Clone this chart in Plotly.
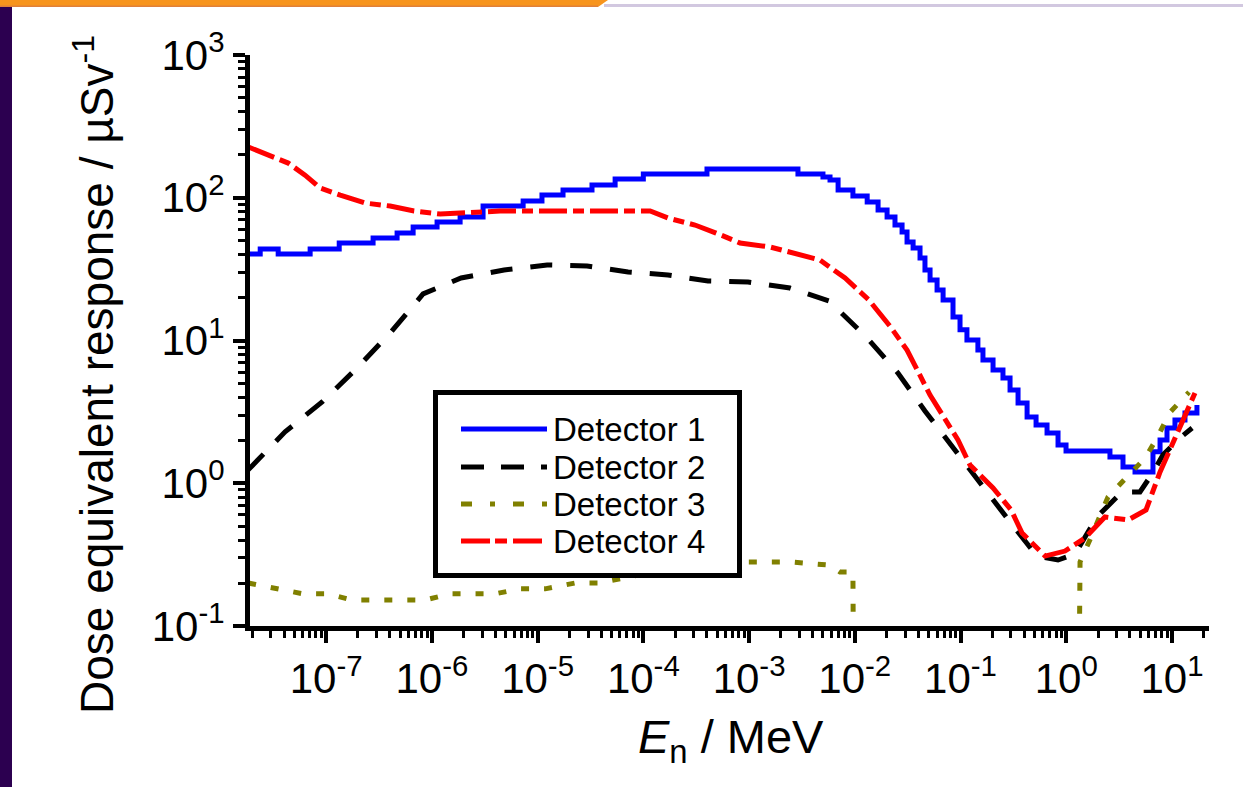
import plotly.graph_objects as go

# ---------------- data ----------------
# Detector 1 (blue, solid, histogram steps)
d1_energy = [1.83e-8, 2.38e-8, 3.52e-8, 7.06e-8, 1.33e-7, 2.78e-7, 4.69e-7, 6.65e-7,
             1.12e-6, 1.85e-6, 3.05e-6, 7.3e-6, 1.1e-5, 1.74e-5, 3.27e-5, 5.41e-5,
             1.0e-4, 4.0e-4, 2.9e-3, 5.0e-3, 5.83e-3, 6.95e-3, 9.6e-3, 1.31e-2,
             1.66e-2, 2.02e-2, 2.4e-2, 2.8e-2, 3.12e-2, 3.56e-2, 4.14e-2, 4.61e-2,
             5.15e-2, 6.0e-2, 6.84e-2, 8.49e-2, 9.89e-2, 0.115, 0.146, 0.163, 0.203,
             0.252, 0.294, 0.35, 0.426, 0.518, 0.658, 0.836, 0.995, 2.59, 3.44, 4.47,
             6.61, 7.71, 8.97, 10.67, 13.27, 17.22]
d1_resp = [40.4, 43.8, 40.4, 43.8, 48.2, 52.2, 56.6, 62.4,
           67.6, 73.3, 87.5, 94.8, 104.5, 113.2, 122.7, 135.2,
           146.6, 158.9, 146.6, 139.6, 133.0, 113.2, 102.8, 93.3,
           82.0, 73.3, 64.4, 57.5, 49.0, 44.5, 37.8, 31.2,
           26.5, 22.6, 19.2, 14.6, 11.9, 10.1, 8.57, 7.29, 6.21,
           5.46, 4.50, 3.65, 2.91, 2.56, 2.25, 1.85, 1.68, 1.53, 1.30, 1.20,
           1.66, 2.01, 2.44, 2.77, 3.10, 3.53]

# Detector 2 (black, dashed)
d2_energy = [1.83e-8, 4.09e-8, 9.16e-8, 1.96e-7, 4.12e-7, 8.26e-7, 1.89e-6, 4.82e-6,
             1.23e-5, 2.94e-5, 7.18e-5, 1.71e-4, 4.09e-4, 9.79e-4, 2.44e-3, 5.71e-3,
             1.28e-2, 2.56e-2, 4.61e-2, 8.49e-2, 0.156, 0.294, 0.528, 0.836, 1.21,
             1.95, 3.37, 4.98, 6.47, 8.22, 12.2, 15.5]
d2_resp = [1.24, 2.29, 3.71, 6.41, 11.5, 21.2, 27.4, 31.2,
           33.8, 33.3, 30.2, 28.8, 26.1, 25.7, 23.3, 18.9,
           10.6, 5.92, 3.21, 1.77, 0.973, 0.536, 0.309, 0.290, 0.319,
           0.581, 0.869, 0.869, 1.16, 1.58, 2.11, 2.44]

# Detector 3 (olive, dotted) - falls below the axis between ~10 keV and ~1.3 MeV
d3_energy = [1.83e-8, 3.67e-8, 6.07e-8, 1.04e-7, 1.76e-7, 5.01e-7, 8.63e-7, 1.49e-6,
             3.96e-6, 6.84e-6, 1.18e-5, 2.26e-5, 3.73e-5, 9.31e-5, 2.77e-4, 8.22e-4,
             2.44e-3, 5.83e-3, 7.24e-3, 9.6e-3, 1.0e-2, 1.27, 1.35, 1.67, 2.48, 3.67,
             5.56, 7.21, 9.57, 14.5]
d3_resp = [0.200, 0.182, 0.168, 0.168, 0.152, 0.152, 0.152, 0.168,
           0.168, 0.182, 0.182, 0.200, 0.200, 0.228, 0.259, 0.281,
           0.281, 0.267, 0.239, 0.239, 0.001, 0.001, 0.281, 0.40, 0.80, 1.09,
           1.50, 2.07, 3.14, 4.35]

# Detector 4 (red, dash-dot)
d4_energy = [1.83e-8, 2.83e-8, 4.38e-8, 6.32e-8, 8.77e-8, 1.36e-7, 2.34e-7, 4.03e-7,
             6.79e-7, 1.2e-6, 2.15e-6, 4.42e-6, 6.03e-5, 1.16e-4, 1.71e-4, 3.08e-4,
             4.88e-4, 8.22e-4, 1.58e-3, 2.72e-3, 4.69e-3, 8.09e-3, 1.36e-2, 2.15e-2,
             3.12e-2, 5.15e-2, 7.13e-2, 9.46e-2, 0.123, 0.203, 0.301, 0.382, 0.630,
             0.973, 1.50, 2.32, 3.84, 5.68, 7.71, 11.4, 16.5]
d4_resp = [227, 199.5, 175, 144, 117, 104.5, 91.8, 87.5,
           80.7, 76.9, 78.2, 80.7, 80.7, 80.7, 72.1, 64.4,
           56.6, 48.2, 45.2, 40.4, 36.6, 27.4, 19.2, 12.6,
           8.57, 4.15, 2.86, 2.01, 1.34, 0.927, 0.650, 0.448, 0.309,
           0.335, 0.413, 0.581, 0.553, 0.650, 1.20, 2.29, 4.29]

series_names = ["Detector 1", "Detector 2", "Detector 3", "Detector 4"]

x_tick_vals = [1e-7, 1e-6, 1e-5, 1e-4, 1e-3, 1e-2, 1e-1, 1e0, 1e1]
x_tick_text = ["10<sup>-7</sup>", "10<sup>-6</sup>", "10<sup>-5</sup>", "10<sup>-4</sup>",
               "10<sup>-3</sup>", "10<sup>-2</sup>", "10<sup>-1</sup>", "10<sup>0</sup>",
               "10<sup>1</sup>"]
y_tick_vals = [1e-1, 1e0, 1e1, 1e2, 1e3]
y_tick_text = ["10<sup>-1</sup>", "10<sup>0</sup>", "10<sup>1</sup>", "10<sup>2</sup>",
               "10<sup>3</sup>"]

# ---------------- styles ----------------
FONT = "Liberation Sans, Arial, sans-serif"
colors = ["#0000FF", "#000000", "#808000", "#FF0000"]
dashes = ["solid", "22px,18px", "8px,15px", "28px,6px,11px,6px"]
legend_dashes = ["solid", "23px,17px", "11px,18px,5px,18px", "29px,5px,12px,6px"]
shapes_line = ["hv", "linear", "linear", "linear"]
LW = 5

W, H = 1243, 787
L, R, T, B = 250, 34, 55, 161
PW, PH = W - L - R, H - T - B


def px(xp):
    return (xp - L) / PW


def py(yp):
    return (H - B - yp) / PH


fig = go.Figure()
data = [(d1_energy, d1_resp), (d2_energy, d2_resp), (d3_energy, d3_resp), (d4_energy, d4_resp)]
for (xe, yr), name, c, d, ls in zip(data, series_names, colors, dashes, shapes_line):
    fig.add_trace(go.Scatter(x=xe, y=yr, mode="lines", name=name, showlegend=False,
                             line=dict(color=c, width=LW, dash=d, shape=ls)))

# minor tick positions (2..9 in every decade)
def minor_vals(lo, hi):
    out = []
    for e in range(lo, hi + 1):
        for k in range(2, 10):
            out.append(k * 10.0 ** e)
    return out

axis_common = dict(type="log", showline=True, linewidth=5, linecolor="black",
                   ticks="outside", ticklen=12, tickwidth=4, tickcolor="black",
                   showgrid=False, zeroline=False,
                   tickfont=dict(family=FONT, size=42, color="black"))

fig.update_xaxes(range=[-7.72, 1.35], tickvals=x_tick_vals, ticktext=x_tick_text,
                 minor=dict(ticks="outside", ticklen=7, tickwidth=3, tickcolor="black",
                            tickvals=minor_vals(-9, 1), showgrid=False),
                 **axis_common)
fig.update_yaxes(range=[-1, 3], tickvals=y_tick_vals, ticktext=y_tick_text,
                 minor=dict(ticks="outside", ticklen=7, tickwidth=3, tickcolor="black",
                            tickvals=minor_vals(-1, 2), showgrid=False),
                 **axis_common)

shapes = []
annotations = []

# legend box (drawn by hand to match the reference layout)
shapes.append(dict(type="rect", xref="paper", yref="paper",
                   x0=px(435.5), x1=px(739.5), y0=py(575.5), y1=py(392.5),
                   line=dict(color="black", width=5), fillcolor="white", layer="above"))
row_y = [429, 467, 504, 541]
for name, c, d, ry in zip(series_names, colors, legend_dashes, row_y):
    shapes.append(dict(type="line", xref="paper", yref="paper",
                       x0=px(461), x1=px(547), y0=py(ry), y1=py(ry),
                       line=dict(color=c, width=5, dash=d), layer="above"))
    annotations.append(dict(text=name, xref="paper", yref="paper", x=px(551), y=py(ry),
                            xanchor="left", yanchor="middle", showarrow=False,
                            font=dict(family=FONT, size=33, color="black")))

# axis titles
annotations.append(dict(text="<i>E</i><sub>n</sub> / MeV", xref="paper", yref="paper",
                        x=px(731), y=py(740), xanchor="center", yanchor="middle",
                        showarrow=False, font=dict(family=FONT, size=47, color="black")))
annotations.append(dict(text="Dose equivalent response / µSv<sup>-1</sup>", xref="paper",
                        yref="paper", x=px(94), y=py(375), xanchor="center", yanchor="middle",
                        textangle=-90, showarrow=False,
                        font=dict(family=FONT, size=46, color="black")))

# page decoration: orange top bar, lavender rule, purple left bar
shapes.append(dict(type="path", xref="paper", yref="paper",
                   path=f"M {px(0)},{py(0)} L {px(608)},{py(0)} L {px(598)},{py(7)} L {px(0)},{py(7)} Z",
                   fillcolor="#F7941D", line=dict(width=0), layer="above"))
shapes.append(dict(type="rect", xref="paper", yref="paper",
                   x0=px(0), x1=px(598), y0=py(7), y1=py(5.5),
                   fillcolor="#E0803A", line=dict(width=0), layer="above"))
shapes.append(dict(type="rect", xref="paper", yref="paper",
                   x0=px(604), x1=px(1243), y0=py(7), y1=py(4),
                   fillcolor="#D2C8E0", line=dict(width=0), layer="above"))
shapes.append(dict(type="rect", xref="paper", yref="paper",
                   x0=px(0), x1=px(12), y0=py(787), y1=py(7),
                   fillcolor="#2C0050", line=dict(width=0), layer="above"))

fig.update_layout(width=W, height=H, margin=dict(l=L, r=R, t=T, b=B, pad=0),
                  paper_bgcolor="white", plot_bgcolor="white",
                  shapes=shapes, annotations=annotations, showlegend=False,
                  font=dict(family=FONT, color="black"))

fig.write_html("out.html")
